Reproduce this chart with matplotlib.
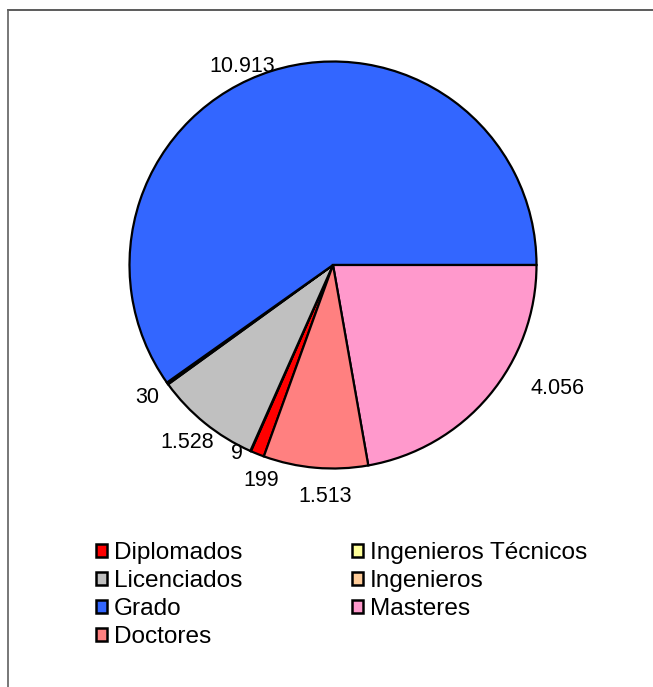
import numpy as np
import matplotlib
matplotlib.use('Agg')
import matplotlib.pyplot as plt
from matplotlib.patches import Patch
from matplotlib.lines import Line2D

plt.rcParams['font.family'] = ['Liberation Sans', 'DejaVu Sans']

# data (series order as in the source workbook)
categories = ['Diplomados', 'Ingenieros Técnicos', 'Licenciados', 'Ingenieros',
              'Grado', 'Masteres', 'Doctores']
values = [199, 9, 1528, 30, 10913, 4056, 1513]
colors = ['#FF0000', '#FFFF99', '#C0C0C0', '#FFCC99', '#3366FF', '#FF99CC', '#FF8080']

# label nudges (pixels) from the outer rim at each slice's mid-angle
label_offsets = [(4, -27), (-14, -2), (-18, -19), (-20, -14), (-29, 5), (69, 7), (10, -29)]

W, H = 653, 687
fig = plt.figure(figsize=(W / 100, H / 100), dpi=100)

cx, cy, r = 333, 265, 203.5
lim = 1.2
side = 2 * lim * r
ax = fig.add_axes([(cx - side / 2) / W, (H - cy - side / 2) / H, side / W, side / H])

total = sum(values)
# first slice starts so that Grado ends at 3 o'clock (clockwise drawing)
start = 360 * sum(values[:5]) / total
wedges, _ = ax.pie(values, colors=colors, startangle=start, counterclock=False,
                   radius=1.0, wedgeprops=dict(edgecolor='black', linewidth=1.6))
ax.set_xlim(-lim, lim)
ax.set_ylim(-lim, lim)
ax.set_aspect('equal')
ax.axis('off')

for w, v, off in zip(wedges, values, label_offsets):
    mid = np.deg2rad((w.theta1 + w.theta2) / 2)
    txt = f'{v:,}'.replace(',', '.')
    ax.annotate(txt, xy=(np.cos(mid), np.sin(mid)), xytext=off,
                textcoords='offset pixels', ha='center', va='center',
                fontsize=15.5, color='black')

# legend: matplotlib fills column by column
order = [0, 2, 4, 6, 1, 3, 5]
handles = [Patch(facecolor=colors[i], edgecolor='black', linewidth=1.8) for i in order]
labels = [categories[i] for i in order]
fig.legend(handles, labels, ncol=2, loc='upper left',
           bbox_to_anchor=(96 / W, 1 - 542 / H), frameon=False,
           fontsize=17.6, handlelength=0.47, handleheight=0.47, handletextpad=0.27,
           labelspacing=0.245, columnspacing=4.47, borderpad=0, borderaxespad=0)

# chart-area border (only top and left edges are visible in the crop)
fig.add_artist(Line2D([8 / W, 1], [1 - 10 / H, 1 - 10 / H], color='#404040', lw=1.2))
fig.add_artist(Line2D([8 / W, 8 / W], [0, 1 - 10 / H], color='#606060', lw=1.2))

fig.savefig('out.png', dpi=100)
